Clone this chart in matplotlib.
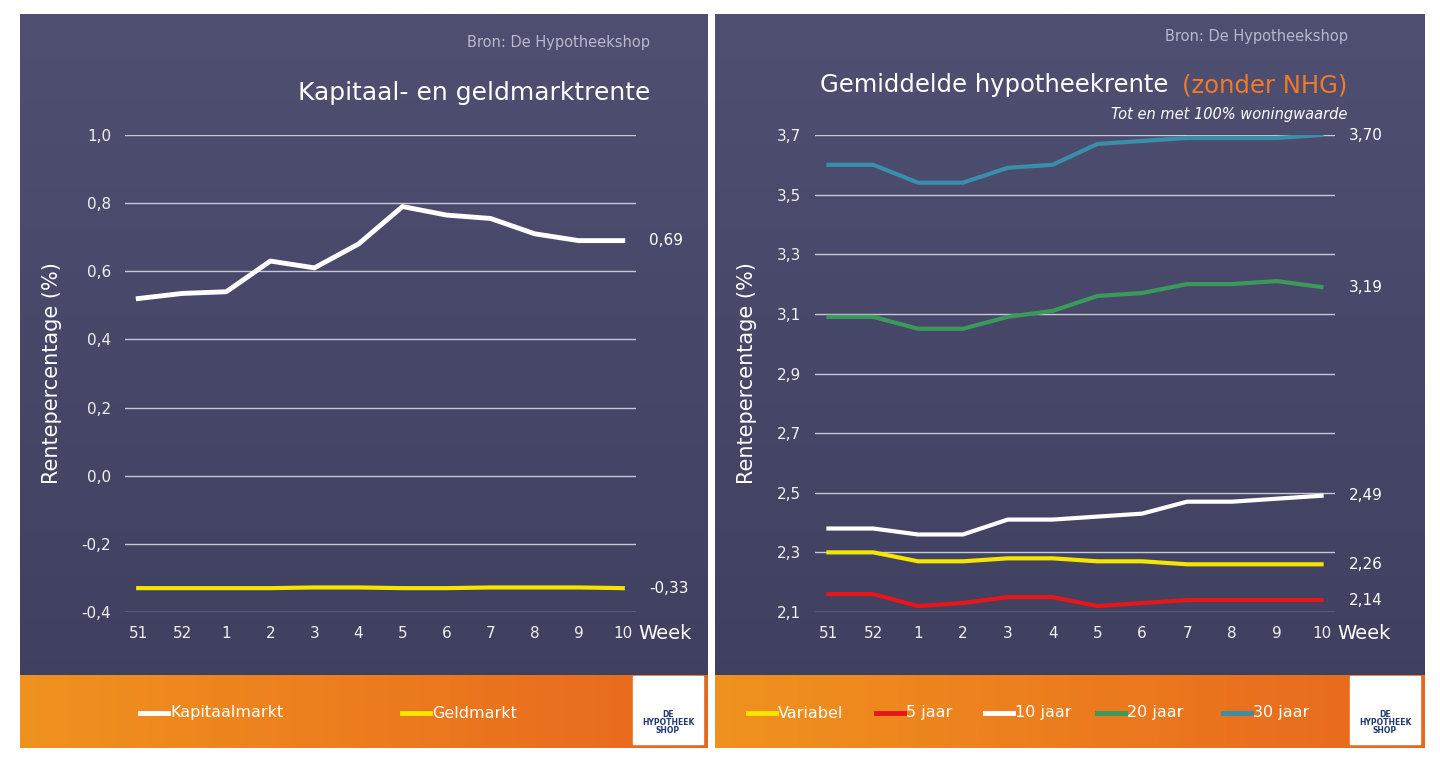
import matplotlib
matplotlib.use("Agg")
import matplotlib.pyplot as plt
import numpy as np
from matplotlib.patches import Rectangle
from matplotlib.colors import LinearSegmentedColormap

weeks = ["51", "52", "1", "2", "3", "4", "5", "6", "7", "8", "9", "10"]
kapitaal = [0.52, 0.535, 0.54, 0.63, 0.61, 0.68, 0.79, 0.765, 0.755, 0.71, 0.69, 0.69]
geld = [-0.33, -0.33, -0.33, -0.33, -0.328, -0.328, -0.33, -0.33, -0.328, -0.328, -0.328, -0.33]
j30 = [3.60, 3.60, 3.54, 3.54, 3.59, 3.60, 3.67, 3.68, 3.69, 3.69, 3.69, 3.70]
j20 = [3.09, 3.09, 3.05, 3.05, 3.09, 3.11, 3.16, 3.17, 3.20, 3.20, 3.21, 3.19]
j10 = [2.38, 2.38, 2.36, 2.36, 2.41, 2.41, 2.42, 2.43, 2.47, 2.47, 2.48, 2.49]
variabel = [2.30, 2.30, 2.27, 2.27, 2.28, 2.28, 2.27, 2.27, 2.26, 2.26, 2.26, 2.26]
j5 = [2.16, 2.16, 2.12, 2.13, 2.15, 2.15, 2.12, 2.13, 2.14, 2.14, 2.14, 2.14]

W, H = 1440, 779
fig = plt.figure(figsize=(14.4, 7.79), dpi=100)
fig.patch.set_facecolor("white")

def fr(x0, y0, x1, y1):
    return [x0 / W, 1 - y1 / H, (x1 - x0) / W, (y1 - y0) / H]

def panel(x0, x1):
    bg = fig.add_axes(fr(x0, 14, x1, 748))
    grad = np.linspace(0, 1, 256).reshape(-1, 1)
    cm = LinearSegmentedColormap.from_list("g", ["#4f4f72", "#3e3e5e"])
    bg.imshow(grad, aspect="auto", cmap=cm, extent=[0, 1, 0, 1])
    ob = LinearSegmentedColormap.from_list("o", ["#f0921e", "#e8671e"])
    gx = np.linspace(0, 1, 256).reshape(1, -1)
    bg.imshow(gx, aspect="auto", cmap=ob, extent=[0, 1, 0, 73 / 734])
    bg.set_xlim(0, 1); bg.set_ylim(0, 1); bg.axis("off")
    lx = (x1 - 75 - x0) / (x1 - x0)
    bg.add_patch(Rectangle((lx, 0.005), 70 / (x1 - x0), 68 / 734, color="white"))
    bg.text(lx + 35 / (x1 - x0), 0.035, "DE\nHYPOTHEEK\nSHOP", ha="center", va="center",
            fontsize=5.5, color="#1f3a6e", fontweight="bold", linespacing=0.9)
    return bg

panel(20, 708)
panel(715, 1425)

def style(ax, ylim, ticks, fmt):
    ax.set_facecolor("none")
    ax.set_ylim(*ylim)
    ax.set_xlim(-0.3, 11.3)
    ax.set_yticks(ticks)
    ax.set_yticklabels([fmt(t).replace(".", ",") for t in ticks], color="#f0f0f0", fontsize=11)
    ax.set_xticks(range(12))
    ax.set_xticklabels(weeks, color="#f0f0f0", fontsize=11)
    ax.grid(axis="y", color="#c8c8d8", lw=1)
    for s in ax.spines.values():
        s.set_visible(False)
    ax.tick_params(length=0, pad=10)
    ax.set_ylabel("Rentepercentage (%)", color="white", fontsize=15, labelpad=14)
    ax.text(1.005, -0.045, "Week", transform=ax.transAxes, color="white", fontsize=14, va="center")

axL = fig.add_axes(fr(125, 135, 636, 612))
style(axL, (-0.4, 1.0), np.arange(-0.4, 1.01, 0.2), lambda t: f"{t:.1f}")
axL.plot(range(12), kapitaal, color="white", lw=3.5)
axL.plot(range(12), geld, color="#f5e600", lw=3)
axL.text(11.6, kapitaal[-1], "0,69", color="white", fontsize=11, va="center")
axL.text(11.6, geld[-1], "-0,33", color="white", fontsize=11, va="center")
fig.text(650 / W, 1 - 93 / H, "Kapitaal- en geldmarktrente", color="white", fontsize=18, ha="right", va="center")
fig.text(650 / W, 1 - 43 / H, "Bron: De Hypotheekshop", color="#b8b8cc", fontsize=10.5, ha="right", va="center")

axR = fig.add_axes(fr(815, 135, 1335, 612))
style(axR, (2.1, 3.7), np.arange(2.1, 3.71, 0.2), lambda t: f"{t:.1f}")
series = [(variabel, "#f5e600", "Variabel"), (j5, "#e8161a", "5 jaar"), (j10, "white", "10 jaar"),
          (j20, "#3a9a5a", "20 jaar"), (j30, "#3a8fa8", "30 jaar")]
for vals, c, lab in series:
    axR.plot(range(12), vals, color=c, lw=3)
for vals in [j30, j20, j10, variabel, j5]:
    axR.text(11.6, vals[-1], f"{vals[-1]:.2f}".replace(".", ","), color="white", fontsize=11, va="center")
fig.text(820 / W, 1 - 85 / H, "Gemiddelde hypotheekrente", color="white", fontsize=17.5, va="center")
fig.text(1347 / W, 1 - 85 / H, "(zonder NHG)", color="#f07a28", fontsize=17.5, va="center", ha="right")
fig.text(1347 / W, 1 - 115 / H, "Tot en met 100% woningwaarde", color="white", fontsize=10.5,
         style="italic", ha="right", va="center")
fig.text(1348 / W, 1 - 37 / H, "Bron: De Hypotheekshop", color="#b8b8cc", fontsize=10.5, ha="right", va="center")

def leg(x, y, color, label):
    fig.add_artist(plt.Line2D([x / W, (x + 28) / W], [1 - y / H] * 2, color=color, lw=3.5))
    fig.text((x + 30) / W, 1 - y / H, label, color="white", fontsize=11.5, va="center")

leg(140, 713, "white", "Kapitaalmarkt")
leg(402, 713, "#f5e600", "Geldmarkt")
for x, (vals, c, lab) in zip([748, 876, 985, 1097, 1223], series):
    leg(x, 713, c, lab)

fig.savefig("out.png", dpi=100)
